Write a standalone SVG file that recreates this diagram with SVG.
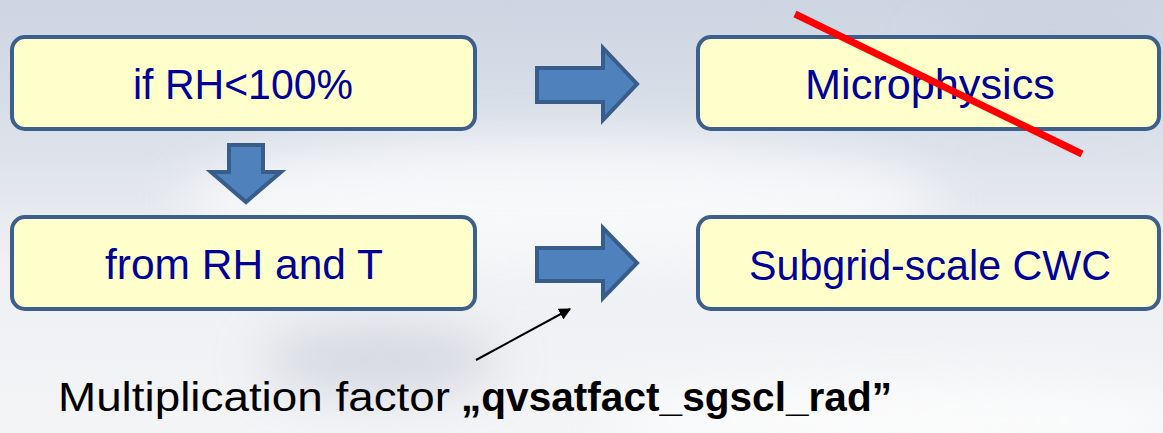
<svg xmlns="http://www.w3.org/2000/svg" width="1163" height="433" viewBox="0 0 1163 433">
  <defs>
    <linearGradient id="sky" x1="0" y1="0" x2="0" y2="1">
      <stop offset="0" stop-color="#cdd5e2"/>
      <stop offset="0.35" stop-color="#dde2ea"/>
      <stop offset="0.6" stop-color="#eef0f3"/>
      <stop offset="1" stop-color="#f3f4f6"/>
    </linearGradient>
    <filter id="blur" x="-50%" y="-50%" width="200%" height="200%">
      <feGaussianBlur stdDeviation="25"/>
    </filter>
    <marker id="ah" viewBox="0 0 10 10" refX="9" refY="5" markerWidth="6" markerHeight="6" orient="auto" markerUnits="strokeWidth">
      <path d="M0,0 L10,5 L0,10 Z" fill="#000"/>
    </marker>
    <style>
      .box { fill: #ffffcc; stroke: #3c5f8c; stroke-width: 4; }
      .lbl { font-family: "Liberation Sans", Arial, sans-serif; font-size: 42px; fill: #000099; }
      .blk { fill: #4f81bd; stroke: #385d8a; stroke-width: 4; stroke-linejoin: miter; }
      .cap { font-family: "Liberation Sans", Arial, sans-serif; font-size: 40px; fill: #000; }
    </style>
  </defs>
  <rect x="0" y="0" width="1163" height="433" fill="url(#sky)"/>
  <g filter="url(#blur)" opacity="0.7">
    <ellipse cx="560" cy="200" rx="380" ry="60" fill="#ffffff"/>
    <ellipse cx="380" cy="360" rx="120" ry="35" fill="#c9ced8"/>
    <ellipse cx="900" cy="420" rx="300" ry="40" fill="#ffffff"/>
    <ellipse cx="1050" cy="60" rx="120" ry="50" fill="#c8d0de"/>
  </g>

  <g id="node-if-rh">
    <rect class="box" x="12" y="37" width="463" height="92" rx="13"/>
    <text class="lbl" x="133" y="99" textLength="220" lengthAdjust="spacingAndGlyphs">if RH&lt;100%</text>
  </g>
  <g id="node-microphysics">
    <rect class="box" x="698" y="37" width="461" height="92" rx="13"/>
    <text class="lbl" x="805" y="99" textLength="250" lengthAdjust="spacingAndGlyphs">Microphysics</text>
  </g>
  <g id="node-from-rh">
    <rect class="box" x="12" y="217" width="463" height="92" rx="13"/>
    <text class="lbl" x="105" y="279" textLength="278" lengthAdjust="spacingAndGlyphs">from RH and T</text>
  </g>
  <g id="node-subgrid">
    <rect class="box" x="698" y="217" width="461" height="92" rx="13"/>
    <text class="lbl" x="749" y="280" textLength="362" lengthAdjust="spacingAndGlyphs">Subgrid-scale CWC</text>
  </g>

  <g id="connectors">
    <path class="blk" d="M537,68 L603,68 L603,48 L637,84 L603,120 L603,102 L537,102 Z"/>
    <path class="blk" d="M537,248 L603,248 L603,228 L637,263 L603,298 L603,281 L537,281 Z"/>
    <path class="blk" d="M229,145 L263,145 L263,172 L281,172 L246,202 L211,172 L229,172 Z"/>
    <line x1="476" y1="360" x2="570" y2="309" stroke="#000" stroke-width="2" marker-end="url(#ah)"/>
  </g>

  <line id="strike" x1="795" y1="14" x2="1082" y2="154" stroke="#ff0000" stroke-width="7"/>

  <g id="caption">
    <text class="cap" x="58" y="411" textLength="392" lengthAdjust="spacingAndGlyphs">Multiplication factor</text>
    <text class="cap" x="461" y="411" font-weight="bold" textLength="431" lengthAdjust="spacingAndGlyphs">„qvsatfact_sgscl_rad”</text>
  </g>
</svg>
